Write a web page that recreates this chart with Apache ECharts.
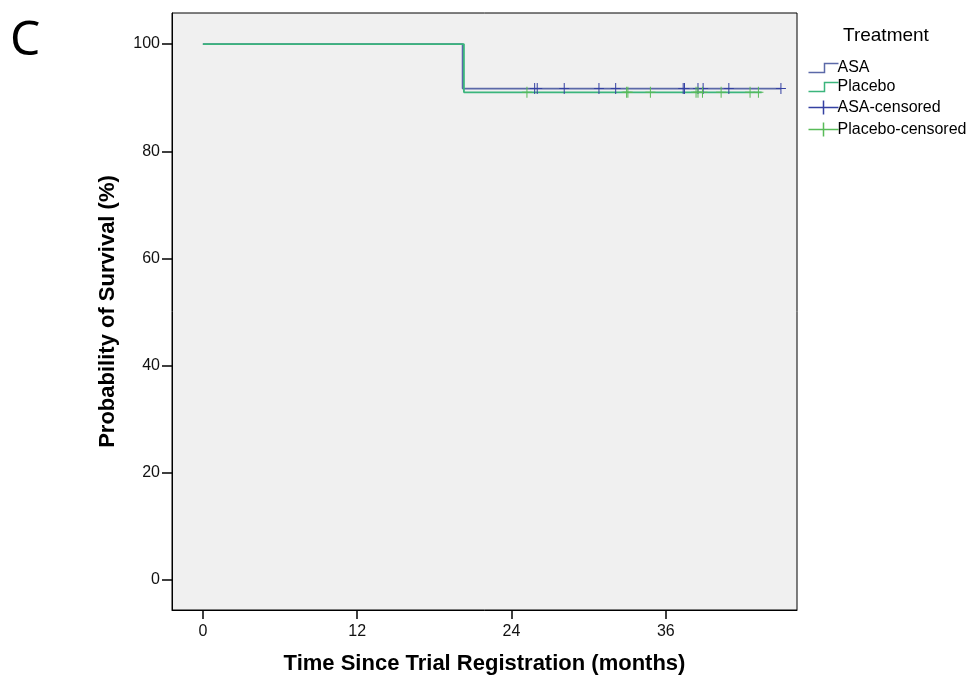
<!DOCTYPE html>
<html>
<head>
<meta charset="utf-8">
<script src="https://cdn.jsdelivr.net/npm/echarts@6/dist/echarts.min.js"></script>
<style>html,body{margin:0;padding:0;background:#fff}#c{width:971px;height:680px}</style>
</head>
<body>
<div id="c"></div>
<script>
// ---- data ----
const xTicks = [0, 12, 24, 36];
const yTicks = [0, 20, 40, 60, 80, 100];
// Kaplan-Meier step points [month, survival %]
const asaSteps = [[0, 100], [20.2, 91.7], [44.95, 91.7]];
const placeboSteps = [[0, 100], [20.3, 91.0], [43.45, 91.0]];
// censoring times (months)
const asaCensored = [25.8, 26.0, 28.1, 30.8, 32.1, 37.35, 37.45, 38.5, 38.9, 40.9, 44.95];
const asaCensorLevel = 91.7;
const placeboCensored = [25.2, 32.95, 33.05, 34.8, 38.35, 38.5, 38.85, 40.3, 42.55, 43.2];
const placeboCensorLevel = 91.0;
const legendNames = ['ASA', 'Placebo', 'ASA-censored', 'Placebo-censored'];

const colors = {
  asa: '#5b69a8',
  placebo: '#3bb57c',
  asaC: '#3441a2',
  placeboC: '#58bb58'
};

const plusSym = 'path://M0,4.5 H10 V5.5 H0 Z M4.5,0 H5.5 V10 H4.5 Z';
const stepIcon = 'path://M0,9 L16,9 L16,0 L30,0';
const plusIcon = 'path://M0,7 L30,7 M15,0 L15,14';

const chart = echarts.init(document.getElementById('c'), null, {renderer: 'canvas'});
const font = 'Liberation Sans, Arial, sans-serif';

chart.setOption({
  animation: false,
  backgroundColor: '#ffffff',
  grid: {
    left: 172, right: 174, top: 13, bottom: 69,
    show: true, backgroundColor: '#f0f0f0', borderColor: '#000', borderWidth: 1
  },
  xAxis: {
    type: 'value', min: -2.4, max: 46.2,
    axisLine: {show: true, onZero: false, lineStyle: {color: '#000', width: 1}},
    axisTick: {show: true, length: 9, lineStyle: {color: '#000', width: 1.5}, customValues: xTicks},
    axisLabel: {color: '#111', fontSize: 16, fontFamily: font, margin: 14, customValues: xTicks},
    splitLine: {show: false},
    name: 'Time Since Trial Registration (months)',
    nameLocation: 'middle', nameGap: 43,
    nameTextStyle: {color: '#000', fontSize: 22, fontWeight: 'bold', fontFamily: font}
  },
  yAxis: {
    type: 'value', min: -5.6, max: 105.8,
    axisLine: {show: true, onZero: false, lineStyle: {color: '#000', width: 1}},
    axisTick: {show: true, length: 10, lineStyle: {color: '#000', width: 1.5}, customValues: yTicks},
    axisLabel: {color: '#111', fontSize: 16, fontFamily: font, margin: 12, customValues: yTicks},
    splitLine: {show: false},
    name: 'Probability of Survival (%)',
    nameLocation: 'middle', nameGap: 53,
    nameTextStyle: {color: '#000', fontSize: 22, fontWeight: 'bold', fontFamily: font}
  },
  legend: {
    left: 801, top: 55, orient: 'vertical',
    itemWidth: 30, itemHeight: 14, itemGap: 3,
    textStyle: {color: '#000', fontSize: 16, fontFamily: font, lineHeight: 16, padding: [0, 0, 0, -6]},
    data: [
      {name: legendNames[0], icon: stepIcon, itemStyle: {color: 'none', borderColor: colors.asa, borderWidth: 1.5}},
      {name: legendNames[1], icon: stepIcon, itemStyle: {color: 'none', borderColor: colors.placebo, borderWidth: 1.5}},
      {name: legendNames[2], icon: plusIcon, itemStyle: {color: 'none', borderColor: colors.asaC, borderWidth: 1.5}},
      {name: legendNames[3], icon: plusIcon, itemStyle: {color: 'none', borderColor: colors.placeboC, borderWidth: 1.5}}
    ]
  },
  graphic: [
    {type: 'text', left: 10, top: 17, style: {text: 'C', font: '48px "Noto Sans", "Open Sans", sans-serif', fill: '#000'}},
    {type: 'text', left: 843, top: 26, style: {text: 'Treatment', font: '19px ' + font, fill: '#000'}}
  ],
  series: [
    {
      name: legendNames[0], type: 'line', step: 'end', data: asaSteps,
      showSymbol: false, symbol: 'none', lineStyle: {color: colors.asa, width: 1.8},
      itemStyle: {color: colors.asa}, z: 2
    },
    {
      name: legendNames[1], type: 'line', step: 'end', data: placeboSteps,
      showSymbol: false, symbol: 'none', lineStyle: {color: colors.placebo, width: 1.8},
      itemStyle: {color: colors.placebo}, z: 3
    },
    {
      name: legendNames[2], type: 'scatter', symbol: plusSym, symbolSize: [10, 11],
      data: asaCensored.map(t => [t, asaCensorLevel]),
      itemStyle: {color: colors.asaC, opacity: 1}, z: 4
    },
    {
      name: legendNames[3], type: 'scatter', symbol: plusSym, symbolSize: [10, 11],
      data: placeboCensored.map(t => [t, placeboCensorLevel]),
      itemStyle: {color: colors.placeboC, opacity: 1}, z: 5
    }
  ]
});
</script>
</body>
</html>
